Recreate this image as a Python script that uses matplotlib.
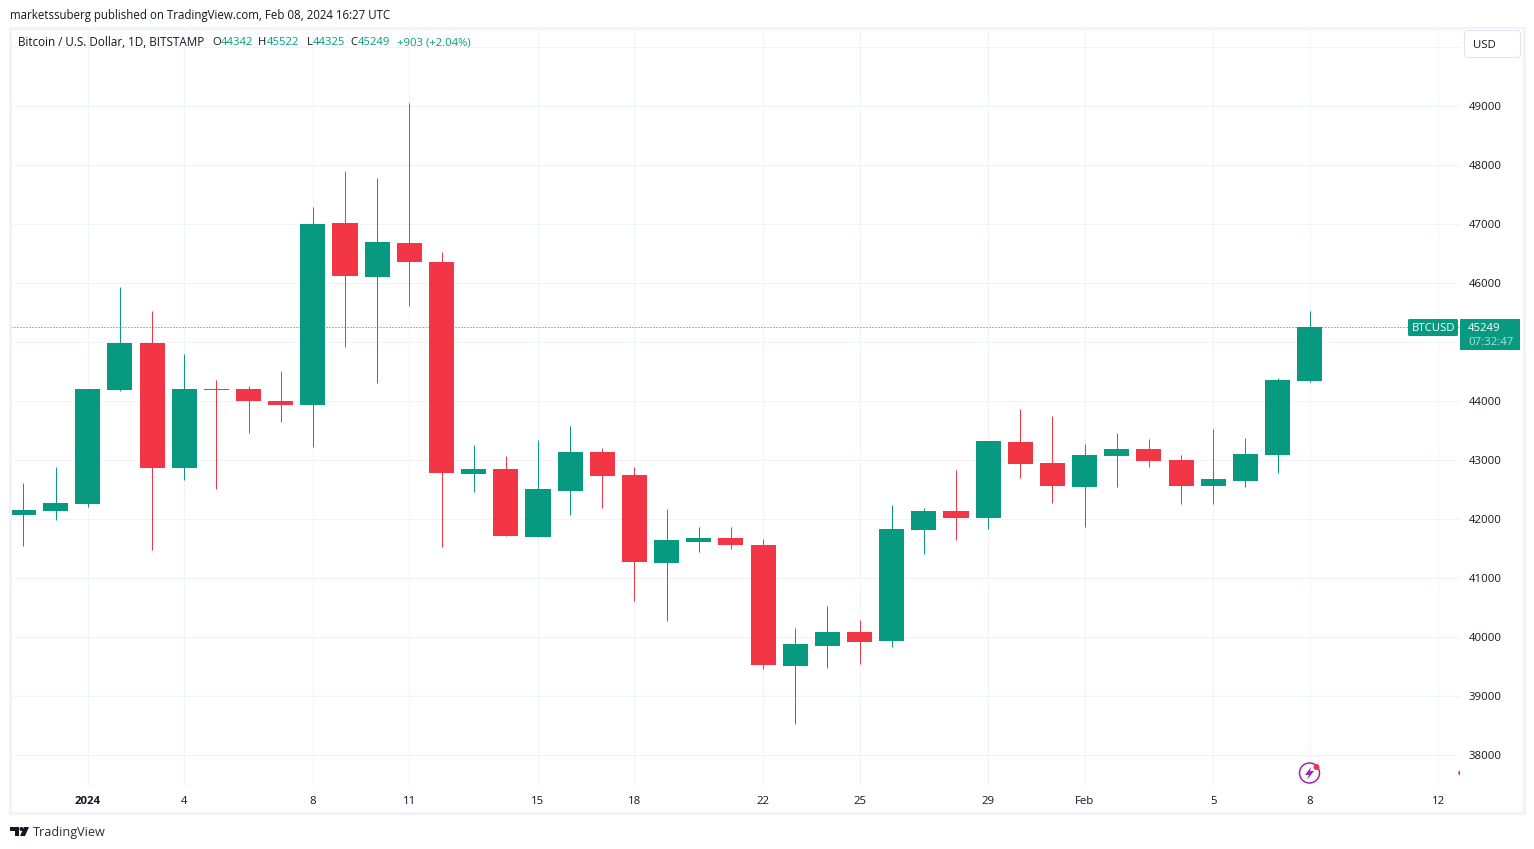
import numpy as np
import pandas as pd
import matplotlib
matplotlib.use("Agg")
import matplotlib.pyplot as plt
import matplotlib.dates as mdates
from matplotlib.patches import Circle, FancyBboxPatch, Polygon, Rectangle

plt.rcParams['font.family'] = ['Open Sans', 'DejaVu Sans']

W, H = 1534, 849
GREEN = '#089981'
RED = '#F23645'
GRID = '#F0F3FA'
TEXT = '#131722'
PX = 0.72  # one pixel in points at dpi 100

# daily candles
dates = pd.date_range('2023-12-30', '2024-02-08', freq='D')
opens = [42070, 42135, 42254, 44186, 44983, 42864, 44203, 44203, 44000, 43932,
         47017, 46100, 46678, 46356, 42762, 42847, 41695, 42474, 43135, 42745,
         41254, 41610, 41678, 41559, 39508, 39847, 40084, 39932, 41813, 42135,
         42017, 43305, 42949, 42542, 43067, 43186, 43000, 42559, 42644, 43084,
         44342]
highs = [42610, 42881, 44203, 45932, 45525, 44796, 44356, 44254, 44508, 47288,
         47898, 47780, 49051, 46525, 43254, 43067, 43339, 43576, 43203, 42881,
         42169, 41864, 41864, 41661, 40152, 40525, 40288, 42237, 42186, 42830,
         43322, 43864, 43745, 43271, 43457, 43356, 43084, 43525, 43373, 44390,
         45522]
lows = [41542, 41983, 42203, 44170, 41474, 42661, 42508, 43457, 43644, 43220,
        44915, 44305, 45610, 41525, 42457, 41711, 41695, 42067, 42186, 40610,
        40271, 41440, 41491, 39457, 38525, 39474, 39542, 39830, 41406, 41644,
        41830, 42695, 42271, 41864, 42542, 42881, 42254, 42254, 42542, 42779,
        44325]
closes = [42152, 42271, 44203, 44983, 42864, 44203, 44186, 44000, 43932, 47000,
          46118, 46695, 46356, 42779, 42847, 41711, 42508, 43135, 42728, 41271,
          41644, 41678, 41559, 39525, 39881, 40084, 39915, 41830, 42135, 42017,
          43322, 42932, 42559, 43084, 43186, 42983, 42559, 42678, 43101, 44356,
          45249]

# 45000 sits behind the last price badge and 50000 behind the USD button
price_ticks = [38000, 39000, 40000, 41000, 42000, 43000, 44000, 45000,
               46000, 47000, 48000, 49000, 50000]
price_labels = ['38000', '39000', '40000', '41000', '42000', '43000', '44000',
                '', '46000', '47000', '48000', '49000', '']
time_ticks = ['2024-01-01', '2024-01-04', '2024-01-08', '2024-01-11', '2024-01-15',
              '2024-01-18', '2024-01-22', '2024-01-25', '2024-01-29', '2024-02-01',
              '2024-02-05', '2024-02-08', '2024-02-12']
time_labels = ['2024', '4', '8', '11', '15', '18', '22', '25', '29', 'Feb', '5', '8', '12']

last_close = closes[-1]

fig = plt.figure(figsize=(W / 100, H / 100), dpi=100, facecolor='white')

# pane area in pixels: x 11..1460, y 29..786
ax = fig.add_axes([11 / W, 1 - 786 / H, (1460 - 11) / W, (786 - 29) / H])
x = mdates.date2num(dates)
o, h, l, c = map(np.array, (opens, highs, lows, closes))
colors = np.where(c >= o, GREEN, RED)

ax.vlines(x, l, h, colors=colors, linewidth=PX, zorder=3)
ax.bar(x, np.abs(c - o), bottom=np.minimum(o, c), width=0.78, color=colors,
       linewidth=0, zorder=4)
ax.axhline(last_close, color='#3E7F74', linewidth=PX, linestyle=(0, (1, 2)), zorder=2)

base = mdates.date2num(pd.Timestamp('2024-01-01'))
ax.set_xlim(base - 2.388, base + 42.673)
ax.set_ylim(37474, 50305)

ax.set_xticks(mdates.date2num(pd.to_datetime(time_ticks)))
ax.set_xticklabels(time_labels)
ax.set_yticks(price_ticks)
ax.set_yticklabels(price_labels)
ax.yaxis.tick_right()
ax.tick_params(axis='both', length=0, labelsize=8.2, labelcolor=TEXT)
ax.tick_params(axis='x', pad=7)
ax.tick_params(axis='y', pad=6)
ax.get_xticklabels()[0].set_fontweight('bold')
for lab in ax.get_yticklabels():
    lab.set_verticalalignment('center_baseline')
ax.grid(True, color=GRID, linewidth=PX)
ax.set_axisbelow(True)
for s in ax.spines.values():
    s.set_visible(False)

# overlay in pixel coordinates for the frame, header and badges
ov = fig.add_axes([0, 0, 1, 1], facecolor='none')
ov.set_xlim(0, W)
ov.set_ylim(H, 0)
ov.axis('off')

ov.add_patch(Rectangle((10, 27.5), 1513.5, 785.5, fill=False, edgecolor=GRID, linewidth=2.2))

ov.text(10, 15, 'marketssuberg published on TradingView.com, Feb 08, 2024 16:27 UTC',
        fontsize=8.3, color=TEXT, va='center')
ov.text(33, 832.5, 'TradingView', fontsize=9.1, color='#2A2E39', va='center')

# logo
ov.add_patch(Polygon([(10, 827), (19, 827), (19, 836), (15, 836), (15, 831), (10, 831)], color=TEXT, lw=0))
ov.add_patch(Circle((21.5, 829), 2, color=TEXT, lw=0))
ov.add_patch(Polygon([(24, 827), (29, 827), (25, 836), (20, 836)], color=TEXT, lw=0))

# legend line
ov.text(18, 42.5, 'Bitcoin / U.S. Dollar, 1D, BITSTAMP', fontsize=8.4, color=TEXT, va='center')
for px, s, col in [(212, 'O', TEXT), (221, '44342', GREEN), (258, 'H', TEXT), (267, '45522', GREEN),
                   (307, 'L', TEXT), (313, '44325', GREEN), (350, 'C', TEXT), (358, '45249', GREEN),
                   (397, '+903 (+2.04%)', GREEN)]:
    ov.text(px, 42.5, s, fontsize=8.1, color=col, va='center')

# USD button
ov.add_patch(Rectangle((1462, 29), 60, 30, color='white', lw=0))
ov.add_patch(FancyBboxPatch((1467, 33), 51, 22, boxstyle='round,pad=2.5,rounding_size=4',
                            facecolor='white', edgecolor='#E0E3EB', linewidth=PX))
ov.text(1473, 45, 'USD', fontsize=8.2, color=TEXT, va='center')

# last price badges
ov.add_patch(FancyBboxPatch((1409, 320), 48, 15, boxstyle='round,pad=1,rounding_size=1.5',
                            facecolor=GREEN, edgecolor='none'))
ov.text(1412, 328.5, 'BTCUSD', fontsize=8.2, color='white', va='center')
ov.add_patch(Rectangle((1460, 319), 60, 31, color=GREEN, lw=0))
ov.text(1468, 328.5, str(last_close), fontsize=8.2, color='white', va='center')
ov.text(1468, 342.5, '07:32:47', fontsize=8.2, color='#B5E0D8', va='center')

# bolt icon
ov.add_patch(Circle((1309.5, 773), 10, fill=False, edgecolor='#9C27B0', linewidth=1.1))
ov.add_patch(Polygon([(1311, 767), (1305, 775), (1309, 775), (1307, 780), (1314, 771), (1310, 771)],
                     color='#9C27B0', lw=0))
ov.add_patch(Circle((1316.5, 767), 3, color=RED, lw=0))
ov.add_patch(Circle((1461, 773), 2.8, color=RED, lw=0, zorder=1))
ov.add_patch(Rectangle((1460, 765), 6, 16, color='white', lw=0, zorder=2))

fig.savefig('out.png', dpi=100)
